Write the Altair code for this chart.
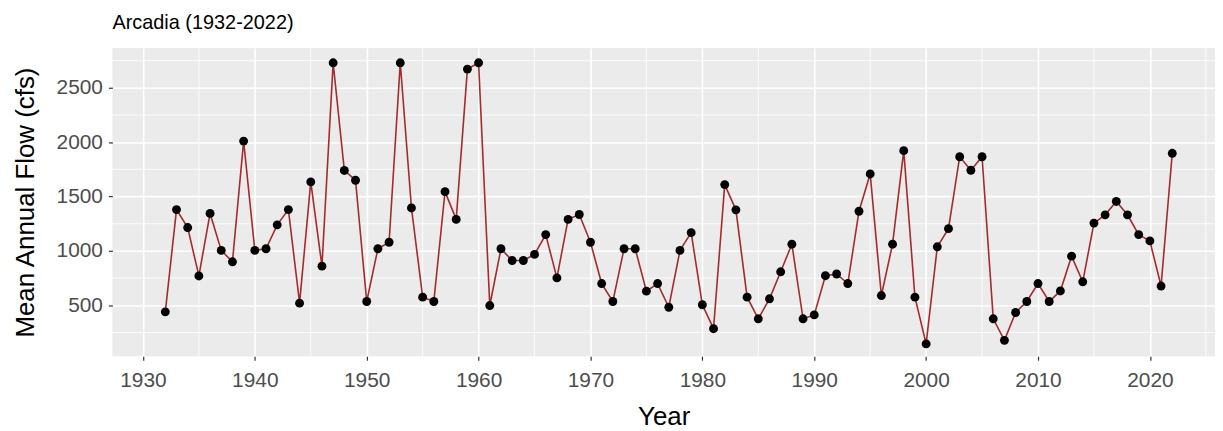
import altair as alt
import pandas as pd

years = list(range(1932, 2023))
flow = [
    440, 1380, 1215, 770, 1345, 1005, 900, 2010, 1005, 1020,
    1240, 1380, 520, 1635, 860, 2730, 1740, 1650, 535, 1020,
    1080, 2730, 1395, 575, 535, 1545, 1290, 2672, 2730, 498,
    1020, 912, 912, 968, 1150, 752, 1290, 1335, 1080, 700,
    535, 1020, 1020, 630, 700, 482, 1005, 1168, 505, 285,
    1610, 1378, 575, 376, 560, 808, 1062, 376, 412, 772,
    788, 700, 1365, 1708, 590, 1062, 1922, 575, 145, 1038,
    1205, 1866, 1742, 1866, 376, 178, 434, 535, 700, 535,
    632, 952, 716, 1256, 1332, 1455, 1332, 1150, 1092, 677,
    1898,
]
x_major = [1930, 1940, 1950, 1960, 1970, 1980, 1990, 2000, 2010, 2020]
x_minor = [1935, 1945, 1955, 1965, 1975, 1985, 1995, 2005, 2015, 2025]
y_major = [500, 1000, 1500, 2000, 2500]
y_minor = [250, 750, 1250, 1750, 2250, 2750]

df = pd.DataFrame({"Year": years, "Flow": flow})
FONT = "Liberation Sans"

xscale = alt.Scale(domain=[1927.27, 2025.82], nice=False, zero=False)
yscale = alt.Scale(domain=[32, 2866], nice=False, zero=False)

xminor = alt.Chart(pd.DataFrame({"v": x_minor})).mark_rule(
    color="white", strokeWidth=0.8
).encode(x=alt.X("v:Q", scale=xscale))
yminor = alt.Chart(pd.DataFrame({"v": y_minor})).mark_rule(
    color="white", strokeWidth=0.8
).encode(y=alt.Y("v:Q", scale=yscale))

base = alt.Chart(df).encode(
    x=alt.X(
        "Year:Q",
        scale=xscale,
        axis=alt.Axis(
            values=x_major, format="d", title="Year", grid=True,
            gridColor="white", gridWidth=1.6, domain=False,
            tickColor="#333333", tickSize=4, tickWidth=1.2,
            labelFont=FONT, labelFontSize=21, labelColor="#4D4D4D",
            labelPadding=9, titleFont=FONT, titleFontSize=26,
            titleFontWeight="normal", titleColor="black", titlePadding=14,
        ),
    ),
    y=alt.Y(
        "Flow:Q",
        scale=yscale,
        axis=alt.Axis(
            values=y_major, format="d", title="Mean Annual Flow (cfs)",
            grid=True, gridColor="white", gridWidth=1.6, domain=False,
            tickColor="#333333", tickSize=4, tickWidth=1.2,
            labelFont=FONT, labelFontSize=21, labelColor="#4D4D4D",
            labelPadding=6, titleFont=FONT, titleFontSize=26,
            titleFontWeight="normal", titleColor="black", titlePadding=18,
        ),
    ),
)

line = base.mark_line(color="#A52A2A", strokeWidth=1.6)
pts = base.mark_circle(color="black", opacity=1, size=80)

chart = (
    alt.layer(xminor, yminor, line, pts)
    .properties(
        width=1109,
        height=310,
        padding={"left": 105, "top": 39, "right": 0, "bottom": 74},
        autosize=alt.AutoSizeParams(type="none"),
        title=alt.TitleParams(
            "Arcadia (1932-2022)", anchor="start", frame="group",
            font=FONT, fontSize=20, fontWeight="normal", color="black",
            offset=15,
        ),
    )
    .configure_view(fill="#EBEBEB", stroke=None)
)

chart.save("out.html", embed_options={"renderer": "svg", "actions": False})
